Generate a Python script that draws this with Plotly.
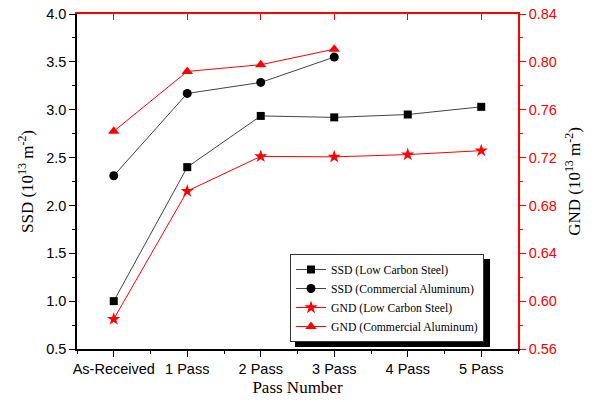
import plotly.graph_objects as go

categories = ["As-Received", "1 Pass", "2 Pass", "3 Pass", "4 Pass", "5 Pass"]
ssd_lcs = [1.00, 2.40, 2.935, 2.92, 2.95, 3.03]
ssd_ca = [2.31, 3.17, 3.285, 3.55]
gnd_lcs = [0.585, 0.692, 0.721, 0.7206, 0.7225, 0.7258]
gnd_ca = [0.742, 0.792, 0.7976, 0.8106]

xpos = list(range(len(categories)))

W, H = 595, 402
L, R, T, B = 77, 77, 14, 53
pw, ph = W - L - R, H - T - B

fig = go.Figure()
fig.add_trace(go.Scatter(x=xpos[:len(ssd_lcs)], y=ssd_lcs, name="SSD (Low Carbon Steel)",
                         mode="lines+markers", line=dict(color="#444444", width=1),
                         marker=dict(symbol="square", size=8, color="black")))
fig.add_trace(go.Scatter(x=xpos[:len(ssd_ca)], y=ssd_ca, name="SSD (Commercial Aluminum)",
                         mode="lines+markers", line=dict(color="#444444", width=1),
                         marker=dict(symbol="circle", size=9, color="black")))
fig.add_trace(go.Scatter(x=xpos[:len(gnd_lcs)], y=gnd_lcs, name="GND (Low Carbon Steel)",
                         mode="lines+markers", yaxis="y2", line=dict(color="red", width=1),
                         marker=dict(symbol="star", size=10, color="red")))
fig.add_trace(go.Scatter(x=xpos[:len(gnd_ca)], y=gnd_ca, name="GND (Commercial Aluminum)",
                         mode="lines+markers", yaxis="y2", line=dict(color="red", width=1),
                         marker=dict(symbol="triangle-up", size=10, color="red")))
# dummy trace to materialise the top axis
fig.add_trace(go.Scatter(x=[None], y=[None], xaxis="x2", showlegend=False, hoverinfo="skip"))

tickfont = dict(family="Liberation Sans, Arial", size=14.5, color="black")
titlefont = dict(family="Liberation Serif, Times New Roman", size=17, color="black")

LEG_L, LEG_T = 290, 254
LEG_W, LEG_H = 195, 88

fig.update_layout(
    width=W, height=H,
    margin=dict(l=L, r=R, t=T, b=B),
    paper_bgcolor="white", plot_bgcolor="white",
    xaxis=dict(range=[-0.5, 5.5], tickmode="array", tickvals=xpos, ticktext=categories,
               showline=True, linecolor="black", linewidth=1.5, ticks="outside", ticklen=6,
               tickcolor="black", showgrid=False, zeroline=False, tickfont=tickfont,
               minor=dict(ticks="outside", ticklen=3, dtick=0.5, tick0=-0.5, tickcolor="black", showgrid=False),
               title=dict(text="Pass Number", font=titlefont, standoff=5), automargin=False),
    xaxis2=dict(range=[-0.5, 5.5], overlaying="x", side="top", anchor="y",
                tickmode="array", tickvals=xpos, showticklabels=False,
                showline=True, linecolor="red", linewidth=1.5, ticks="inside", ticklen=6,
                tickcolor="red", showgrid=False, zeroline=False, automargin=False),
    yaxis=dict(range=[0.5, 4.0], dtick=0.5, tick0=0.5, tickformat=".1f",
               showline=True, linecolor="black", linewidth=1.5, ticks="outside", ticklen=6,
               tickcolor="black", showgrid=False, zeroline=False, tickfont=tickfont,
               minor=dict(ticks="outside", ticklen=3, dtick=0.25, tickcolor="black", showgrid=False),
               title=dict(text="SSD (10<sup>13</sup> m<sup>-2</sup>)", font=titlefont, standoff=8),
               automargin=False),
    yaxis2=dict(range=[0.56, 0.84], dtick=0.04, tick0=0.56, tickformat=".2f", overlaying="y",
                side="right", anchor="x",
                showline=True, linecolor="red", linewidth=1.5, ticks="outside", ticklen=6,
                tickcolor="red", showgrid=False, zeroline=False,
                tickfont=dict(family="Liberation Sans, Arial", size=14.5, color="red"),
                minor=dict(ticks="outside", ticklen=3, dtick=0.02, tickcolor="red", showgrid=False),
                title=dict(text="GND (10<sup>13</sup> m<sup>-2</sup>)", font=titlefont, standoff=12),
                automargin=False),
    legend=dict(x=(LEG_L - L) / pw, y=(H - B - LEG_T) / ph, xanchor="left", yanchor="top",
                bgcolor="white", bordercolor="#333333", borderwidth=1,
                font=dict(family="Liberation Serif, Times New Roman", size=11.7, color="black"),
                itemwidth=30, tracegroupgap=0),
    showlegend=True,
)

# legend drop shadow (offset 5 px right/down from the legend box)
fig.add_shape(type="rect", xref="paper", yref="paper",
              x0=(LEG_L + 5 - L) / pw, x1=(LEG_L + LEG_W + 5 - L) / pw,
              y0=(H - B - (LEG_T + LEG_H + 5)) / ph, y1=(H - B - (LEG_T + 5)) / ph,
              fillcolor="black", line=dict(width=0), layer="above")

fig.write_html("out.html")
